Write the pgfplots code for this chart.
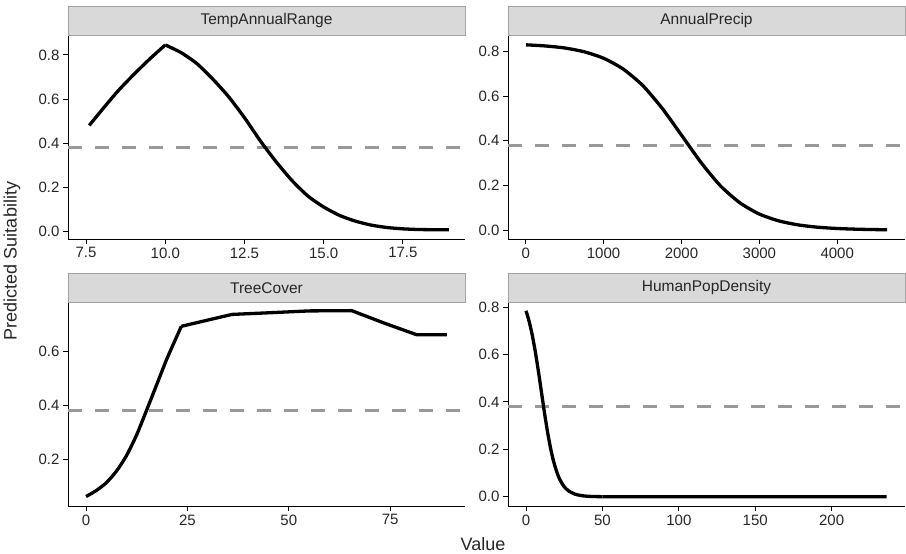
\documentclass[border=0pt]{standalone}
\usepackage{pgfplots}
\pgfplotsset{compat=1.18}
\usepackage{fontspec}
\setmainfont{Liberation Sans}

\definecolor{stripfill}{HTML}{D9D9D9}
\definecolor{stripline}{HTML}{A3A3A3}
\definecolor{refgray}{HTML}{999999}

\pgfplotsset{
  facet/.style={
    scale only axis,
    width=397pt, height=204pt,
    axis x line*=bottom, axis y line*=left,
    axis line style={-, black, line width=0.9pt},
    tick style={black, line width=0.9pt},
    tick align=outside, major tick length=5pt,
    tick label style={font=\fontsize{15}{17}\selectfont, text=black!85},
    /pgf/number format/assume math mode=true,
    /pgf/number format/fixed,
    /pgf/number format/fixed zerofill,
    /pgf/number format/precision=1,
    clip=false,
    every axis plot/.append style={line join=round},
  },
  curve/.style={black, line width=3.3pt, smooth, tension=0.4},
  thresh/.style={refgray, line width=3pt, dash pattern=on 13.5pt off 13.5pt},
}

\newcommand{\strip}[2]{%
  \draw[fill=stripfill, draw=stripline, line width=0.9pt]
    (#1.north west) rectangle ([yshift=28.5pt]#1.north east);
  \node[font=\fontsize{15.5}{17}\selectfont, text=black!85]
    at ([yshift=14.25pt]#1.north) {#2};
}

\begin{document}
\begin{tikzpicture}
\useasboundingbox (0,0) rectangle (906pt,554pt);

% TempAnnualRange
\begin{axis}[facet, name=p1, at={(68pt,315pt)}, anchor=south west,
  xmin=6.93, xmax=19.46, ymin=-0.035, ymax=0.89,
  xtick={7.5,10,12.5,15,17.5}, ytick={0,0.2,0.4,0.6,0.8}]
  \addplot[thresh] coordinates {(6.93,0.38) (19.46,0.38)};
  \addplot[curve] coordinates {
    (7.6,0.48) (8.0,0.55) (8.5,0.635) (9.0,0.71) (9.5,0.78) (10.0,0.845)};
  \addplot[curve] coordinates {
    (10.0,0.845) (10.5,0.81) (11.0,0.76) (11.5,0.69) (12.0,0.61) (12.5,0.515)
    (13.0,0.41) (13.5,0.315) (14.0,0.23) (14.5,0.16) (15.0,0.11) (15.5,0.072)
    (16.0,0.046) (16.5,0.028) (17.0,0.017) (17.5,0.011) (18.0,0.008)
    (18.5,0.007) (18.95,0.007)};
\end{axis}
\strip{p1}{TempAnnualRange}

% AnnualPrecip
\begin{axis}[facet, name=p2, at={(508pt,315pt)}, anchor=south west,
  xmin=-227, xmax=4870, ymin=-0.04, ymax=0.873,
  xtick={0,1000,2000,3000,4000},
  xticklabel style={/pgf/number format/precision=0, /pgf/number format/set thousands separator={}},
  ytick={0,0.2,0.4,0.6,0.8}]
  \addplot[thresh] coordinates {(-227,0.38) (4870,0.38)};
  \addplot[curve] coordinates {
    (5,0.829) (250,0.824) (500,0.815) (750,0.798) (1000,0.769) (1250,0.721)
    (1500,0.648) (1750,0.546) (2000,0.425) (2250,0.303) (2500,0.198)
    (2750,0.122) (3000,0.0715) (3250,0.041) (3500,0.023) (3750,0.0127)
    (4000,0.007) (4250,0.0038) (4500,0.002) (4640,0.0015)};
\end{axis}
\strip{p2}{AnnualPrecip}

% TreeCover
\begin{axis}[facet, name=p3, at={(68pt,48pt)}, anchor=south west,
  xmin=-4.45, xmax=93.45, ymin=0.028, ymax=0.783,
  xtick={0,25,50,75},
  xticklabel style={/pgf/number format/precision=0},
  ytick={0.2,0.4,0.6}]
  \addplot[thresh] coordinates {(-4.45,0.38) (93.45,0.38)};
  \addplot[curve] coordinates {
    (0,0.063) (2.5,0.085) (5,0.114) (7.5,0.157) (10,0.215) (12.5,0.292)
    (15,0.385) (17.5,0.48) (20,0.575) (23.5,0.693)};
  \addplot[black, line width=3.3pt] coordinates {
    (23.5,0.693) (30,0.716) (36,0.737) (45,0.743) (55,0.75) (65.5,0.751)
    (73.5,0.705) (81.5,0.662) (89,0.662)};
\end{axis}
\strip{p3}{TreeCover}

% HumanPopDensity
\begin{axis}[facet, name=p4, at={(508pt,48pt)}, anchor=south west,
  xmin=-11.8, xmax=248, ymin=-0.039, ymax=0.821,
  xtick={0,50,100,150,200},
  xticklabel style={/pgf/number format/precision=0},
  ytick={0,0.2,0.4,0.6,0.8}]
  \addplot[thresh] coordinates {(-11.8,0.38) (248,0.38)};
  \addplot[curve] coordinates {
    (0,0.784) (2,0.74) (4,0.684) (6,0.614) (8,0.533) (10,0.445) (12,0.357)
    (14,0.276) (16,0.206) (18,0.15) (20,0.107) (22,0.074) (25,0.042)
    (28,0.024) (32,0.011) (36,0.005) (40,0.0022) (45,0.0008) (50,0.0003)};
  \addplot[black, line width=3.3pt] coordinates {
    (50,0.0003) (60,0) (100,0) (150,0) (200,0) (236,0)};
\end{axis}
\strip{p4}{HumanPopDensity}

\node[rotate=90, font=\fontsize{18}{20}\selectfont, text=black!85] at (12pt,293pt) {Predicted Suitability};
\node[font=\fontsize{18}{20}\selectfont, text=black!85] at (483pt,10pt) {Value};
\end{tikzpicture}
\end{document}
